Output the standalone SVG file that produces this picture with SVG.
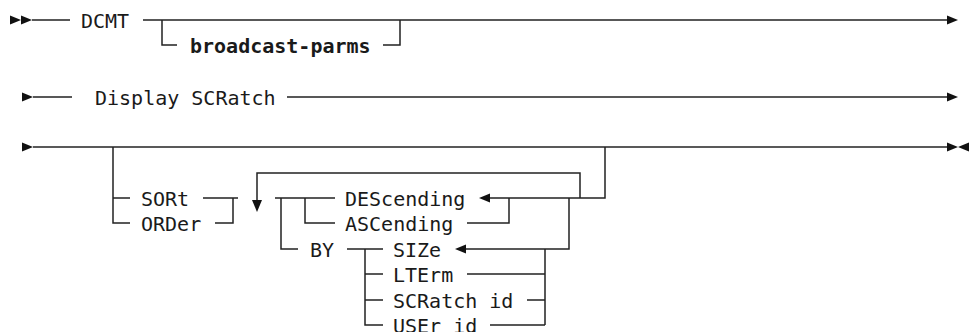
<svg xmlns="http://www.w3.org/2000/svg" width="969" height="332" viewBox="0 0 969 332">
<style>
.t{font-family:"DejaVu Sans Mono","Liberation Mono",monospace;font-size:20px;fill:#1a1a1a}
.b{font-weight:bold}
.c path,.c line{fill:none;stroke:#222;stroke-width:1.5}
.a{fill:#111;stroke:none}
</style>
<rect width="969" height="332" fill="#fff"/>
<g class="c" id="connectors">
<path d="M32,20 H70 M143,20 H947"/>
<path d="M162,20 V45 H177 M383,45 H400 V20"/>
<path d="M33,97 H72 M287,97 H947"/>
<path d="M33,147 H947"/>
<path d="M113,147 V223 H130 M113,198 H130"/>
<path d="M203,198 H238 M233,198 V223 H215"/>
<path d="M580,198 V173 H257 V201"/>
<path d="M275,198 H335 M281,198 V249 H298 M305,198 V223 H335"/>
<path d="M490,198 H605 V147"/>
<path d="M467,223 H509 V198"/>
<path d="M569,198 V249 H466"/>
<path d="M347,249 H383 M365,249 V325 H383 M365,274 H383 M365,300 H383"/>
<path d="M467,274 H545 M527,300 H545 M490,325 H545 M545,249 V325"/>
<polygon class="a" points="10,15.5 21,20 10,24.5"/>
<polygon class="a" points="21,15.5 32,20 21,24.5"/>
<polygon class="a" points="947,15.5 958,20 947,24.5"/>
<polygon class="a" points="22,92.5 33,97 22,101.5"/>
<polygon class="a" points="947,92.5 958,97 947,101.5"/>
<polygon class="a" points="22,142.5 33,147 22,151.5"/>
<polygon class="a" points="947,142.5 958,147 947,151.5"/>
<polygon class="a" points="969,142.5 958,147 969,151.5"/>
<polygon class="a" points="252,200 262,200 257,212"/>
<polygon class="a" points="479,198 490,193.5 490,202.5"/>
<polygon class="a" points="455,249 466,244.5 466,253.5"/>
</g>
<g id="n-dcmt"><text class="t" x="81" y="27.5">DCMT</text></g>
<g id="n-broadcast"><text class="t b" x="190" y="52.5">broadcast-parms</text></g>
<g id="n-display"><text class="t" x="95" y="104.5">Display SCRatch</text></g>
<g id="n-sort"><text class="t" x="141" y="205.5">SORt</text></g>
<g id="n-order"><text class="t" x="141" y="230.5">ORDer</text></g>
<g id="n-desc"><text class="t" x="345" y="205.5">DEScending</text></g>
<g id="n-asc"><text class="t" x="345" y="230.5">ASCending</text></g>
<g id="n-by"><text class="t" x="310" y="256.5">BY</text></g>
<g id="n-size"><text class="t" x="393" y="256.5">SIZe</text></g>
<g id="n-lterm"><text class="t" x="393" y="281.5">LTErm</text></g>
<g id="n-scratch"><text class="t" x="393" y="307.5">SCRatch id</text></g>
<g id="n-user"><text class="t" x="393" y="332.5">USEr id</text></g>
</svg>
